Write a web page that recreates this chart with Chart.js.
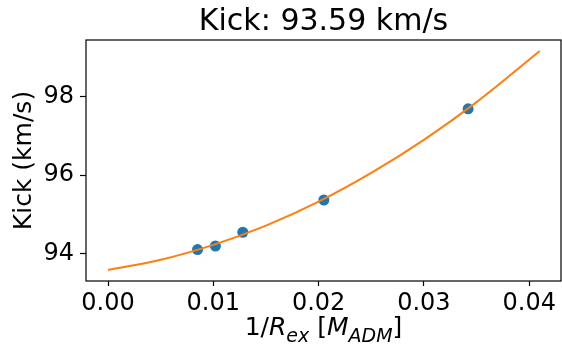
<!DOCTYPE html>
<html>
<head>
<meta charset="utf-8">
<script src="https://cdn.jsdelivr.net/npm/chart.js@4.4.1/dist/chart.umd.min.js"></script>
<style>
  html, body { margin: 0; padding: 0; background: #fff; }
  #wrap { width: 562px; height: 349px; position: relative; }
</style>
</head>
<body>
<div id="wrap"><canvas id="kickChart"></canvas></div>
<script>
// measured kick at each extraction radius
const invRadius = [0.0085, 0.0102, 0.0128, 0.0205, 0.0342];
const kickValues = [94.11, 94.20, 94.55, 95.37, 97.69];

// extrapolation curve through the measurements
const fitX = [0.000, 0.005, 0.010, 0.015, 0.020, 0.025, 0.030, 0.035, 0.041];
const fitY = [93.59, 93.85, 94.23, 94.72, 95.33, 96.06, 96.90, 97.86, 99.16];

const xTicks = [0.00, 0.01, 0.02, 0.03, 0.04];
const yTicks = [94, 96, 98];

const titleText = 'Kick: 93.59 km/s';
const yLabelText = 'Kick (km/s)';

const FONT = "'DejaVu Sans', sans-serif";

// ============================================
// FRAME, TITLE AND AXIS LABELS
// ============================================
const decorations = {
    id: 'decorations',
    afterDraw(chart) {
        const ctx = chart.ctx;
        const a = chart.chartArea;
        ctx.save();

        // axes box
        ctx.strokeStyle = '#000';
        ctx.lineWidth = 1.2;
        ctx.strokeRect(a.left, a.top, a.right - a.left, a.bottom - a.top);

        ctx.fillStyle = '#000';
        const cx = (a.left + a.right) / 2;

        // title
        ctx.font = `30px ${FONT}`;
        ctx.textAlign = 'center';
        ctx.textBaseline = 'alphabetic';
        ctx.fillText(titleText, cx, 30);

        // y label, rotated
        ctx.save();
        ctx.translate(31, (a.top + a.bottom) / 2);
        ctx.rotate(-Math.PI / 2);
        ctx.font = `25px ${FONT}`;
        ctx.textAlign = 'center';
        ctx.fillText(yLabelText, 0, 0);
        ctx.restore();

        // x label: 1/R_ex [M_ADM] with italic symbols and subscripts
        const parts = [
            { t: '1/', f: `25px ${FONT}`, dy: 0 },
            { t: 'R', f: `italic 25px ${FONT}`, dy: 0 },
            { t: 'ex', f: `italic 19px ${FONT}`, dy: 7 },
            { t: ' [', f: `25px ${FONT}`, dy: 0 },
            { t: 'M', f: `italic 25px ${FONT}`, dy: 0 },
            { t: 'ADM', f: `italic 19px ${FONT}`, dy: 7 },
            { t: ']', f: `25px ${FONT}`, dy: 0 }
        ];
        let total = 0;
        parts.forEach(p => { ctx.font = p.f; p.w = ctx.measureText(p.t).width; total += p.w; });
        let x = cx - total / 2;
        const base = 335;
        ctx.textAlign = 'left';
        parts.forEach(p => {
            ctx.font = p.f;
            ctx.fillText(p.t, x, base + p.dy);
            x += p.w;
        });

        ctx.restore();
    }
};

const config = {
    data: {
        datasets: [{
            type: 'line',
            label: 'fit',
            data: fitX.map((v, i) => ({ x: v, y: fitY[i] })),
            borderColor: '#ff7f0e',
            borderWidth: 2,
            pointRadius: 0,
            cubicInterpolationMode: 'monotone',
            fill: false,
            order: 0
        }, {
            type: 'scatter',
            label: 'kick',
            data: invRadius.map((v, i) => ({ x: v, y: kickValues[i] })),
            backgroundColor: '#1f77b4',
            borderColor: '#1f77b4',
            pointRadius: 5.5,
            borderWidth: 0,
            order: 1
        }]
    },
    options: {
        responsive: true,
        maintainAspectRatio: false,
        animation: false,
        layout: {
            autoPadding: false,
            padding: { top: 40, right: 1, left: 0, bottom: 0 }
        },
        plugins: {
            legend: { display: false },
            tooltip: { enabled: false }
        },
        scales: {
            x: {
                type: 'linear',
                min: -0.00209,
                max: 0.04302,
                afterFit: (scale) => { scale.height = 68; },
                afterBuildTicks: (scale) => { scale.ticks = xTicks.map(v => ({ value: v })); },
                grid: { drawOnChartArea: false, drawTicks: true, tickLength: 5, color: '#000', tickWidth: 1.2 },
                border: { display: false },
                ticks: {
                    color: '#000',
                    padding: 3,
                    maxRotation: 0,
                    font: { family: FONT, size: 24 },
                    callback: (v) => v.toFixed(2)
                }
            },
            y: {
                type: 'linear',
                min: 93.31,
                max: 99.44,
                afterFit: (scale) => { scale.width = 86; },
                afterBuildTicks: (scale) => { scale.ticks = yTicks.map(v => ({ value: v })); },
                grid: { drawOnChartArea: false, drawTicks: true, tickLength: 6, color: '#000', tickWidth: 1.2 },
                border: { display: false },
                ticks: {
                    color: '#000',
                    padding: 6,
                    font: { family: FONT, size: 24 },
                    callback: (v) => String(v)
                }
            }
        }
    },
    plugins: [decorations]
};

new Chart(document.getElementById('kickChart'), config);
</script>
</body>
</html>
